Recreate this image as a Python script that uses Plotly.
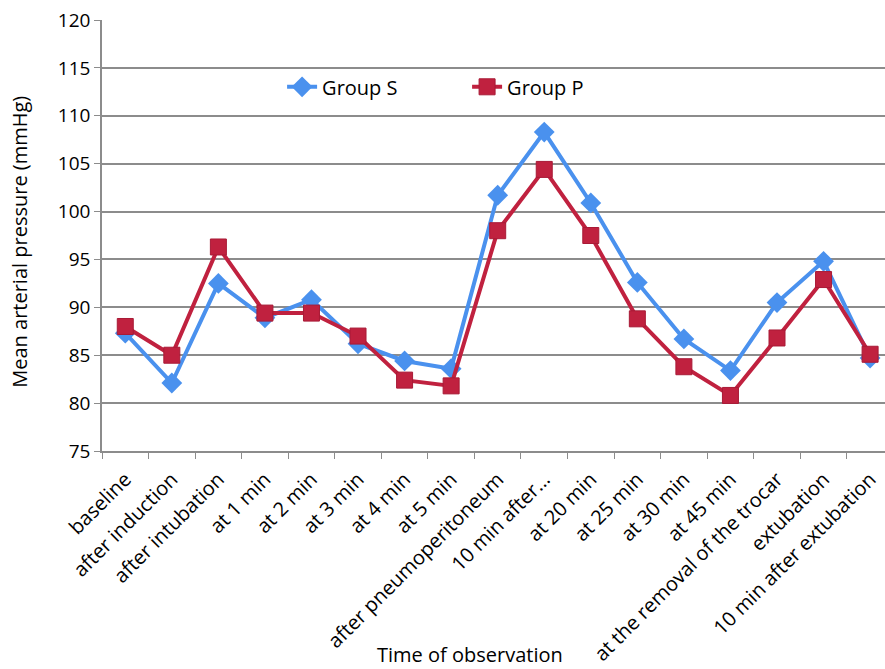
import plotly.graph_objects as go

categories = ["baseline", "after induction", "after intubation", "at 1 min", "at 2 min",
              "at 3 min", "at 4 min", "at 5 min", "after pneumoperitoneum", "10 min after...",
              "at 20 min", "at 25 min", "at 30 min", "at 45 min",
              "at the removal of the trocar", "extubation", "10 min after extubation"]
group_s = [87.3, 82.1, 92.5, 88.9, 90.8, 86.2, 84.4, 83.6, 101.7, 108.3, 100.9, 92.6,
           86.7, 83.4, 90.5, 94.8, 84.7]
group_p = [88.0, 85.0, 96.3, 89.4, 89.4, 87.0, 82.4, 81.8, 98.0, 104.4, 97.5, 88.8,
           83.8, 80.8, 86.8, 92.9, 85.1]
y_ticks = [75, 80, 85, 90, 95, 100, 105, 110, 115, 120]

BLUE = "#4A91EE"
RED = "#C0213F"
GRID = "#8C8C8C"
FONT = "Open Sans"

fig = go.Figure()
fig.add_trace(go.Scatter(x=categories, y=group_s, name="Group S", mode="lines+markers",
                         line=dict(color=BLUE, width=4),
                         marker=dict(symbol="diamond", size=16, color=BLUE)))
fig.add_trace(go.Scatter(x=categories, y=group_p, name="Group P", mode="lines+markers",
                         line=dict(color=RED, width=4),
                         marker=dict(symbol="square", size=16, color=RED,
                                     line=dict(color="#A81A36", width=1))))

fig.update_layout(
    width=885, height=669,
    margin=dict(l=102, r=0, t=20, b=218),
    paper_bgcolor="white", plot_bgcolor="white",
    font=dict(family=FONT, size=19, color="black"),
    showlegend=True,
    legend=dict(orientation="h", x=0.23, y=0.845, xanchor="left", yanchor="middle",
                font=dict(family=FONT, size=20), bgcolor="rgba(0,0,0,0)",
                entrywidth=140, entrywidthmode="pixels"),
    xaxis=dict(type="category", range=[-0.5, 16.32], tickson="boundaries",
               ticks="outside", ticklen=6, tickcolor=GRID, tickangle=-45,
               ticklabelstandoff=7,
               showline=True, linecolor=GRID, linewidth=1.5, showgrid=False,
               automargin=False, tickfont=dict(family=FONT, size=20)),
    yaxis=dict(range=[75, 120], tickvals=y_ticks, ticks="outside", ticklen=6,
               tickcolor=GRID, showline=True, linecolor=GRID, linewidth=1.5,
               showgrid=True, gridcolor=GRID, gridwidth=1.5, zeroline=False,
               automargin=False, tickfont=dict(family=FONT, size=19)),
)
fig.add_annotation(text="Mean arterial pressure (mmHg)", x=-0.105, y=0.485,
                   xref="paper", yref="paper", showarrow=False, textangle=-90,
                   xanchor="center", yanchor="middle", font=dict(family=FONT, size=20))
fig.add_annotation(text="Time of observation", x=0.47, y=-0.472, xref="paper", yref="paper",
                   showarrow=False, xanchor="center", yanchor="middle",
                   font=dict(family=FONT, size=20))

fig.write_html("out.html", config={"displayModeBar": False},
               post_script="document.body.style.margin='0';")
